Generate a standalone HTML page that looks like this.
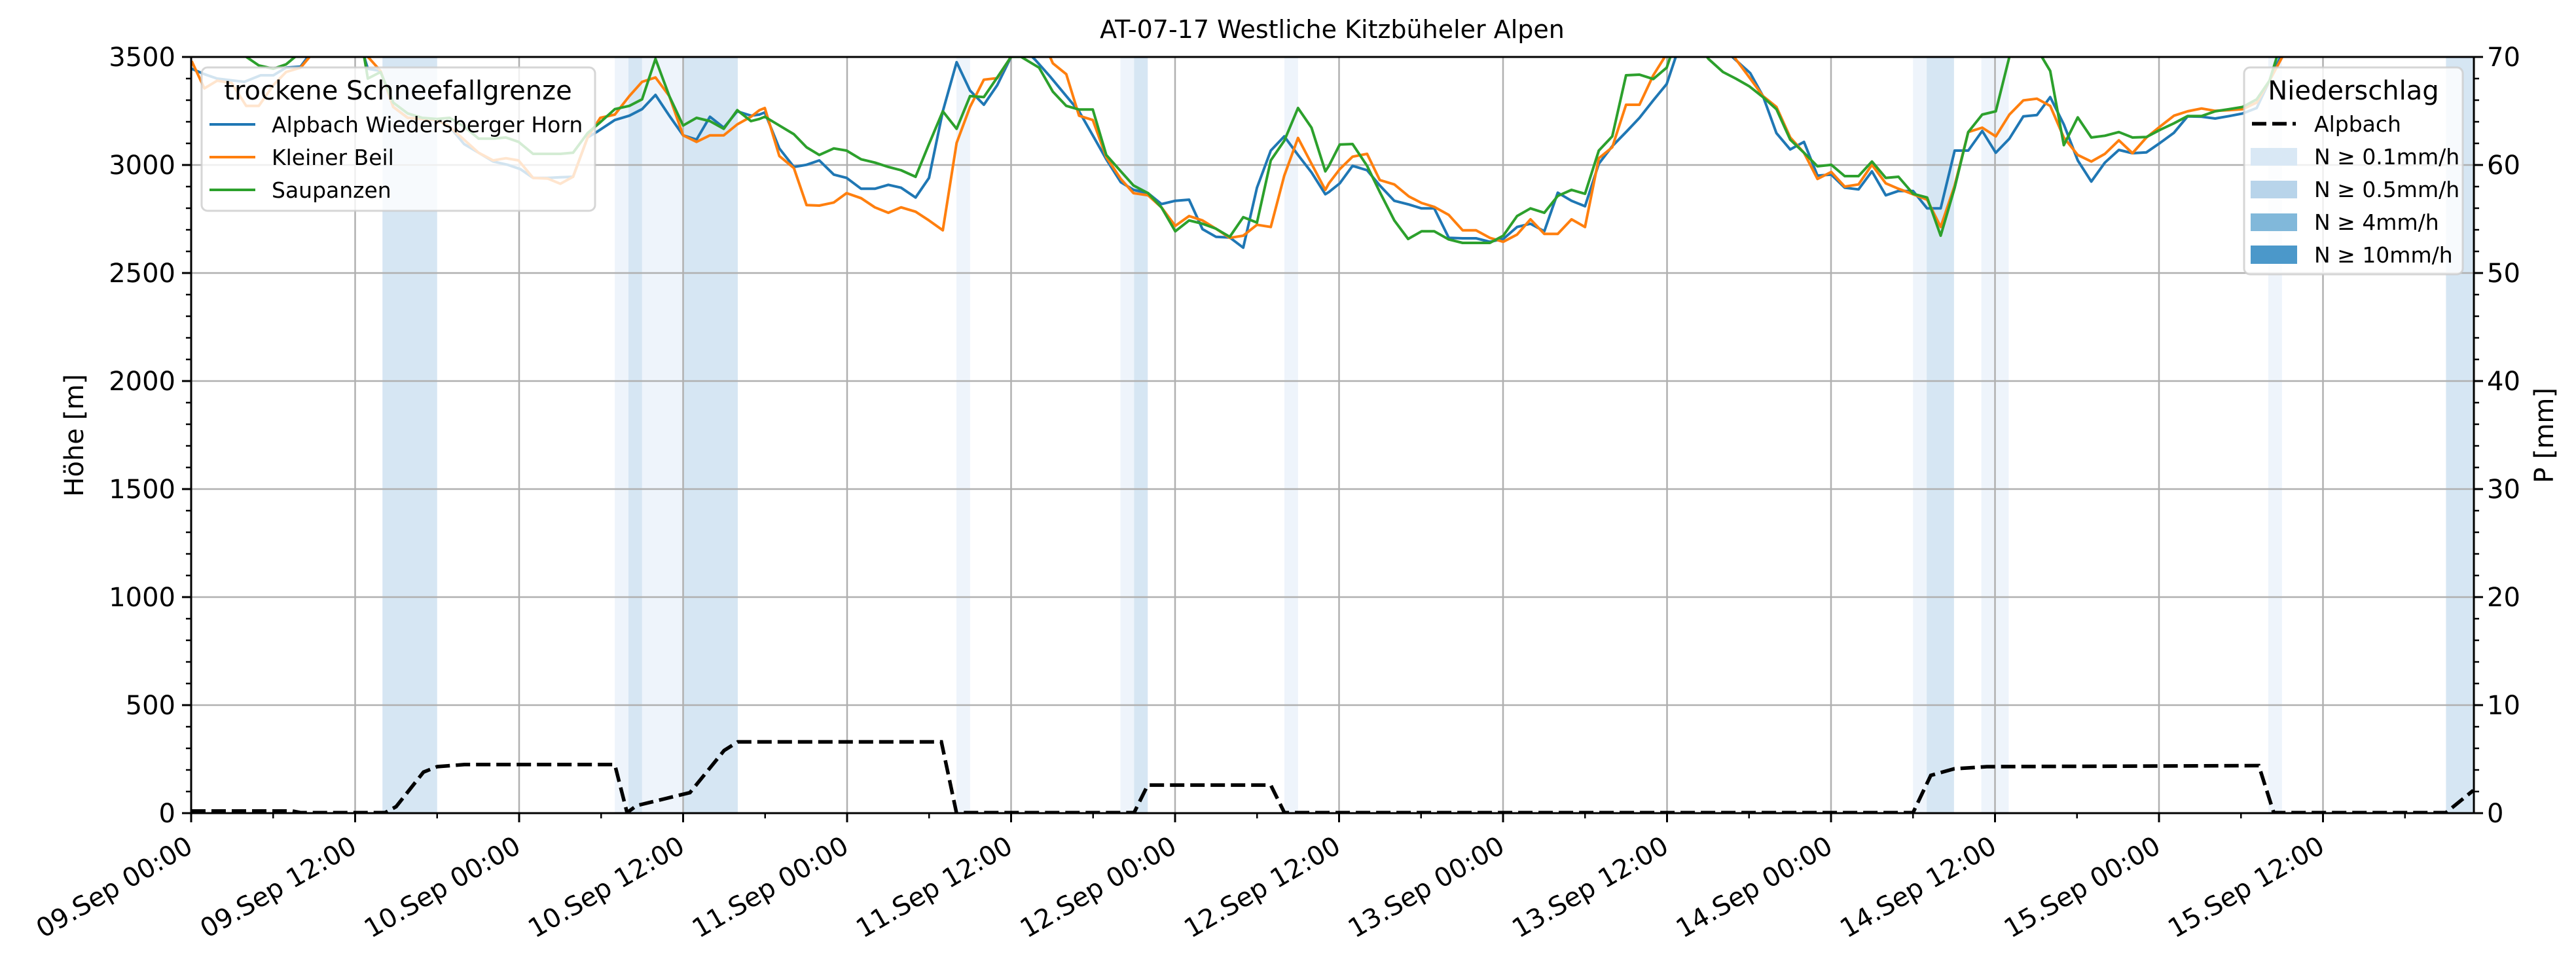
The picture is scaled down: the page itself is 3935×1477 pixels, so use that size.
<!DOCTYPE html>
<html><head><meta charset="utf-8">
<style>
html,body{margin:0;padding:0;background:#fff;}
svg{display:block;font-family:"DejaVu Sans","Liberation Sans",sans-serif;}
</style></head>
<body>
<svg id="s" width="3935" height="1477" viewBox="0 0 3935 1477" xmlns="http://www.w3.org/2000/svg">
<defs><clipPath id="pc"><rect x="292" y="87" width="3487" height="1155"/></clipPath></defs>
<g id="bands"></g>
<g id="grid" stroke="#b0b0b0" stroke-width="2.5"></g>
<g id="lines" clip-path="url(#pc)" fill="none" stroke-width="4" stroke-linejoin="round"></g>
<g id="precip" clip-path="url(#pc)"></g>
<!-- legend 1 -->
<rect x="308" y="103" width="601" height="219" rx="9" fill="#fff" fill-opacity="0.8" stroke="#cccccc" stroke-opacity="0.8" stroke-width="3"/>
<text x="608" y="152" font-size="40" text-anchor="middle">trockene Schneefallgrenze</text>
<line x1="320" y1="190" x2="390" y2="190" stroke="#1f77b4" stroke-width="4"/>
<line x1="320" y1="240" x2="390" y2="240" stroke="#ff7f0e" stroke-width="4"/>
<line x1="320" y1="290" x2="390" y2="290" stroke="#2ca02c" stroke-width="4"/>
<text x="415" y="202" font-size="33">Alpbach Wiedersberger Horn</text>
<text x="415" y="252" font-size="33">Kleiner Beil</text>
<text x="415" y="302" font-size="33">Saupanzen</text>
<!-- legend 2 -->
<rect x="3428" y="103" width="334" height="316" rx="9" fill="#fff" fill-opacity="0.8" stroke="#cccccc" stroke-opacity="0.8" stroke-width="3"/>
<text x="3595" y="152" font-size="40" text-anchor="middle">Niederschlag</text>
<line x1="3440" y1="189" x2="3507" y2="189" stroke="#000" stroke-width="5.5" stroke-dasharray="22 9"/>
<rect x="3438" y="226" width="71" height="27" fill="#d9e8f5"/>
<rect x="3438" y="276" width="71" height="27" fill="#b8d4ea"/>
<rect x="3438" y="326" width="71" height="27" fill="#81b8da"/>
<rect x="3438" y="375" width="71" height="28" fill="#4b98ca"/>
<text x="3535" y="201" font-size="33">Alpbach</text>
<text x="3535" y="251" font-size="33">N ≥ 0.1mm/h</text>
<text x="3535" y="301" font-size="33">N ≥ 0.5mm/h</text>
<text x="3535" y="351" font-size="33">N ≥ 4mm/h</text>
<text x="3535" y="401" font-size="33">N ≥ 10mm/h</text>
<!-- frame -->
<rect x="292" y="87" width="3487" height="1155" fill="none" stroke="#000" stroke-width="3"/>
<g id="ticks" stroke="#000" stroke-width="3"></g>
<g id="labels" font-size="40"></g>
<text x="2035" y="58" font-size="38" text-anchor="middle">AT-07-17 Westliche Kitzbüheler Alpen</text>
<text transform="translate(127,665) rotate(-90)" font-size="40" text-anchor="middle">Höhe [m]</text>
<text transform="translate(3900,665) rotate(-90)" font-size="40" text-anchor="middle">P [mm]</text>
</svg>
<script>
const NS="http://www.w3.org/2000/svg";
function el(t,a,p,txt){const e=document.createElementNS(NS,t);for(const k in a)e.setAttribute(k,a[k]);if(txt!==undefined)e.textContent=txt;document.getElementById(p).appendChild(e);return e;}
const L=292,R=3779,T=87,B=1242,PX=20.875;
const hx=h=>L+h*PX;
const A="#d6e6f3",Bc="#eef4fb";
[[14,18,A],[31,32,Bc],[32,33,A],[33,36,Bc],[36,40,A],[56,57,Bc],[68,69,Bc],[69,70,A],[80,81,Bc],[126,127,Bc],[127,129,A],[131,133,Bc],[152,153,Bc],[165,167,A]].forEach(b=>{
 el("rect",{x:hx(b[0]),y:T,width:(b[1]-b[0])*PX,height:B-T,fill:b[2]},"bands");});
for(let h=12;h<167;h+=12)el("line",{x1:hx(h),y1:T,x2:hx(h),y2:B},"grid");
for(let v=500;v<3500;v+=500){const y=B-v*0.33;el("line",{x1:L,y1:y,x2:R,y2:y},"grid");}
for(let v=0;v<=3500;v+=100){const y=B-v*0.33;const maj=v%500==0;
 el("line",{x1:L-(maj?14:8),y1:y,x2:L,y2:y,"stroke-width":maj?3:2.5},"ticks");
 if(maj)el("text",{x:L-24,y:y+14,"text-anchor":"end"},"labels",String(v));}
for(let m=0;m<=70;m+=2){const y=B-m*16.5;const maj=m%10==0;
 el("line",{x1:R,y1:y,x2:R+(maj?14:8),y2:y,"stroke-width":maj?3:2.5},"ticks");
 if(maj)el("text",{x:R+20,y:y+14},"labels",String(m));}
const days=["09","10","11","12","13","14","15"];
for(let h=0;h<=166;h+=6){const x=hx(h);const maj=h%12==0;
 el("line",{x1:x,y1:B,x2:x,y2:B+(maj?14:8),"stroke-width":maj?3:2.5},"ticks");
 if(maj){const d=days[Math.floor(h/24)];const t=(h%24==0)?"00:00":"12:00";
  el("text",{transform:`translate(${x-10},1274) rotate(-30)`,"text-anchor":"end",y:30},"labels",d+".Sep "+t);}}
function conv(panel,pts){const x0={4:290,5:1160,6:2030,7:2900}[panel];const sx=panel==7?1.7818:1.8023;return pts.map(p=>[x0+p[0]/sx,80+p[1]/3]);}
const data={
"#1f77b4":[[4,[[5,75],[40,100],[75,120],[115,128],[150,135],[195,105],[230,105],[265,70],[305,65],[325,20],[400,-150],[480,20],[490,75],[525,85],[560,250],[600,300],[640,305],[680,310],[715,340],[755,420],[795,460],[835,500],[875,515],[910,535],[945,575],[985,575],[1020,572],[1055,570],[1095,390],[1120,365],[1170,310],[1210,290],[1245,260],[1282,195],[1320,290],[1358,380],[1395,400],[1432,295],[1470,345],[1507,270],[1545,290]]],
 [5,[[0,285],[15,275],[55,440],[95,525],[130,515],[165,495],[205,560],[240,575],[280,625],[318,625],[355,607],[390,620],[430,665],[467,575],[505,270],[543,45],[580,175],[618,240],[655,150],[693,20],[720,-30],[760,35],[800,110],[845,200],[880,270],[918,380],[955,490],[995,595],[1030,630],[1070,645],[1107,695],[1145,680],[1183,675],[1220,810],[1257,845],[1295,848],[1332,895],[1370,620],[1408,450],[1445,385],[1483,470],[1520,550],[1558,650]]],
 [6,[[0,640],[30,600],[65,520],[105,540],[140,610],[180,680],[220,697],[255,715],[290,715],[330,850],[368,852],[405,852],[443,868],[480,855],[518,800],[555,785],[593,820],[630,643],[668,680],[705,705],[743,510],[780,430],[818,365],[855,300],[893,220],[930,145],[955,20],[1030,-150],[1110,20],[1160,95],[1195,200],[1232,370],[1270,445],[1308,410],[1345,565],[1383,560],[1420,620],[1458,628],[1495,545],[1533,655]]],
 [7,[[0,635],[40,635],[78,715],[115,715],[153,450],[190,450],[228,360],[265,460],[302,395],[340,293],[377,287],[413,205],[450,330],[488,495],[525,592],[562,505],[600,447],[637,462],[675,458],[712,415],[750,368],[787,293],[825,295],[862,303],[900,292],[937,280],[975,255],[1010,130],[1040,20],[1100,-200],[1600,-200]]]],
"#ff7f0e":[[4,[[5,40],[40,165],[75,130],[115,140],[155,245],[190,245],[230,150],[265,90],[305,70],[330,20],[410,-150],[490,20],[525,85],[560,250],[600,300],[640,305],[680,310],[715,340],[755,400],[795,460],[835,495],[870,485],[905,495],[945,575],[985,578],[1020,602],[1055,570],[1095,390],[1130,300],[1170,285],[1210,200],[1245,135],[1282,115],[1320,200],[1358,380],[1395,410],[1432,380],[1470,380],[1507,330],[1545,295]]],
 [5,[[0,265],[15,255],[55,475],[95,530],[130,700],[165,702],[205,688],[240,645],[280,668],[318,710],[355,735],[390,710],[430,730],[467,770],[505,815],[543,415],[580,250],[618,125],[655,118],[693,20],[750,-100],[800,20],[808,50],[845,100],[880,290],[918,310],[955,480],[995,580],[1030,645],[1070,655],[1107,710],[1145,795],[1183,750],[1220,770],[1257,808],[1295,850],[1332,840],[1370,790],[1408,800],[1445,565],[1483,392],[1520,510],[1558,630]]],
 [6,[[0,600],[30,535],[65,478],[105,465],[140,585],[180,605],[220,660],[255,690],[290,708],[330,745],[368,815],[405,815],[443,850],[480,868],[518,835],[555,765],[593,832],[630,832],[668,765],[705,800],[743,485],[780,435],[818,240],[855,240],[893,105],[925,20],[1020,-150],[1115,20],[1160,120],[1195,200],[1232,250],[1270,390],[1308,460],[1345,580],[1383,548],[1420,615],[1458,605],[1495,515],[1533,600]]],
 [7,[[0,625],[40,650],[78,675],[115,800],[153,610],[190,365],[228,345],[265,385],[302,285],[340,220],[377,212],[413,245],[450,390],[488,470],[525,500],[562,465],[600,403],[637,462],[675,390],[712,340],[750,290],[787,270],[825,257],[862,268],[900,265],[937,260],[975,230],[1010,130],[1045,20],[1100,-200],[1600,-200]]]],
"#2ca02c":[[4,[[5,-60],[100,-60],[155,20],[190,60],[230,75],[265,55],[290,20],[380,-150],[480,20],[490,120],[525,90],[560,230],[600,280],[640,300],[680,305],[715,300],[755,340],[795,395],[835,395],[870,390],[905,410],[945,465],[985,465],[1020,465],[1055,460],[1095,370],[1130,320],[1170,260],[1210,245],[1245,215],[1282,30],[1320,200],[1358,335],[1395,300],[1432,315],[1470,350],[1507,265],[1545,315]]],
 [5,[[0,305],[15,295],[55,335],[95,375],[130,435],[165,470],[205,440],[240,450],[280,490],[318,505],[355,525],[390,540],[430,570],[467,420],[505,270],[543,350],[580,200],[618,205],[655,115],[693,20],[720,20],[770,70],[808,180],[845,245],[880,262],[918,262],[955,470],[995,545],[1030,610],[1070,645],[1107,710],[1145,820],[1183,770],[1220,785],[1257,808],[1295,845],[1332,755],[1370,780],[1408,495],[1445,405],[1483,255],[1520,345],[1558,545]]],
 [6,[[0,520],[30,422],[65,420],[105,520],[140,640],[180,770],[218,855],[255,820],[290,820],[330,857],[368,873],[405,873],[443,873],[480,840],[518,750],[555,715],[593,735],[630,658],[668,630],[705,648],[743,450],[780,385],[818,105],[855,102],[893,122],[930,70],[940,20],[990,-100],[1045,30],[1085,90],[1120,120],[1157,155],[1195,205],[1232,260],[1270,400],[1308,460],[1345,522],[1383,515],[1420,567],[1458,567],[1495,500],[1533,575]]],
 [7,[[0,570],[40,648],[78,665],[115,840],[153,620],[190,365],[228,285],[265,270],[302,20],[345,-100],[390,20],[413,85],[450,425],[488,298],[525,390],[562,382],[600,365],[637,390],[675,388],[712,355],[750,325],[787,292],[825,292],[862,270],[900,260],[937,250],[975,215],[1010,130],[1030,20],[1100,-200],[1600,-200]]]]
};
for(const c in data){let pts=[];data[c].forEach(s=>{pts=pts.concat(conv(s[0],s[1]));});
 el("polyline",{points:pts.map(p=>p[0].toFixed(1)+","+p[1].toFixed(1)).join(" "),stroke:c},"lines");}
const pr=[[0,0.2],[7.4,0.2],[8,0.05],[14.2,0.05],[15,0.6],[17,3.8],[18,4.3],[20,4.5],[31,4.5],[31.9,0.05],[32.6,0.7],[36.5,1.9],[39,5.8],[40,6.6],[54.9,6.6],[56,0.05],[69,0.05],[70,2.6],[79,2.6],[80,0.05],[126,0.05],[127.3,3.5],[129,4.1],[131.4,4.3],[151.3,4.4],[152.4,0.05],[165,0.05],[167,2.1]];
el("polyline",{points:pr.map(p=>hx(p[0]).toFixed(1)+","+(B-p[1]*16.5).toFixed(1)).join(" "),fill:"none",stroke:"#000","stroke-width":5.5,"stroke-dasharray":"22 9"},"precip");
</script>
</body></html>
